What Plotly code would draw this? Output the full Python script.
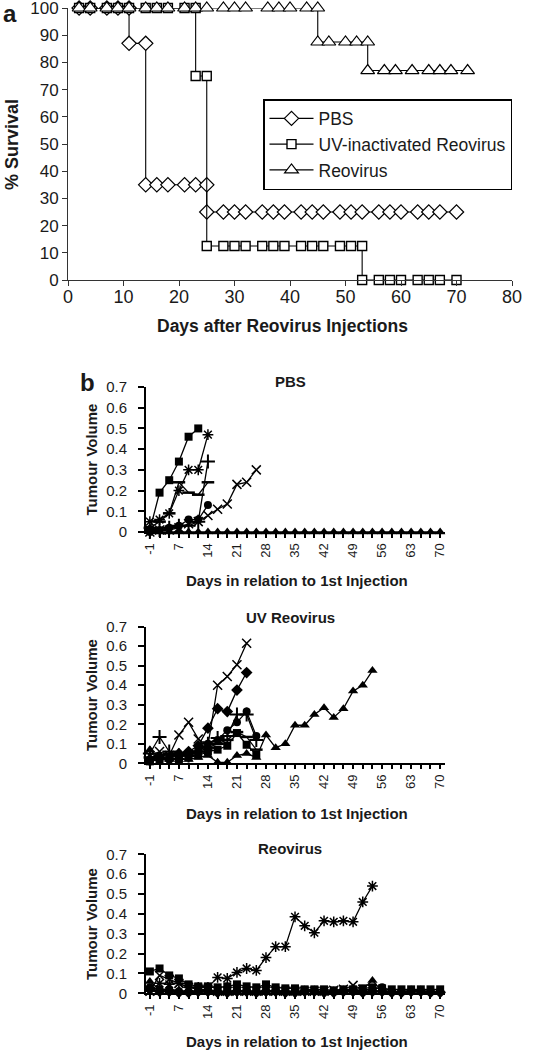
import plotly.graph_objects as go

W, H = 535, 1050

# ---------------- Panel a: survival ----------------
pbs_days = [2, 4, 7, 9, 11, 11, 14, 14, 16, 18, 21, 23, 25, 25, 28, 30, 32, 35, 37, 39,
            42, 44, 46, 49, 51, 53, 56, 58, 60, 63, 65, 67, 70]
pbs_surv = [100, 100, 100, 100, 100, 87, 87, 35, 35, 35, 35, 35, 35, 25, 25, 25, 25, 25, 25, 25,
            25, 25, 25, 25, 25, 25, 25, 25, 25, 25, 25, 25, 25]

uv_days = [2, 4, 7, 9, 11, 14, 16, 18, 21, 23, 23, 25, 25, 28, 30, 32, 35, 37, 39, 42,
           44, 46, 49, 51, 53, 53, 56, 58, 60, 63, 65, 67, 70]
uv_surv = [100, 100, 100, 100, 100, 100, 100, 100, 100, 100, 75, 75, 12.5, 12.5, 12.5, 12.5,
           12.5, 12.5, 12.5, 12.5, 12.5, 12.5, 12.5, 12.5, 12.5, 0, 0, 0, 0, 0, 0, 0, 0]

reo_days = [2, 4, 7, 9, 11, 14, 16, 18, 21, 23, 25, 28, 30, 32, 36, 38, 40, 43, 45,
            45, 47, 50, 52, 54, 54, 57, 59, 62, 65, 67, 69, 72]
reo_surv = [100, 100, 100, 100, 100, 100, 100, 100, 100, 100, 100, 100, 100, 100, 100, 100,
            100, 100, 100, 87.5, 87.5, 87.5, 87.5, 87.5, 77, 77, 77, 77, 77, 77, 77, 77]

# ---------------- Panel b: tumour volume ----------------
b_days = [-1, 2, 4, 7, 9, 11, 14, 16, 18, 21, 23, 25, 28, 30, 32, 35, 37, 39, 42, 44, 46,
          49, 51, 53, 56, 58, 60, 63, 65, 67, 70]
b_labels = ["-1", "7", "14", "21", "28", "35", "42", "49", "56", "63", "70"]

pbs_sq = [0.01, 0.19, 0.25, 0.34, 0.46, 0.50]
pbs_ast = [0.05, 0.06, 0.09, 0.20, 0.30, 0.30, 0.47]
pbs_plus = [0.00, 0.01, 0.02, 0.03, 0.03, 0.05, 0.34]
pbs_dash = [0.02, 0.05, 0.09, 0.24, 0.19, 0.18, 0.24]
pbs_circ = [0.00, 0.01, 0.02, 0.03, 0.06, 0.06, 0.13]
pbs_x = [0.00, 0.01, 0.01, 0.02, 0.04, 0.05, 0.08, 0.11, 0.135, 0.23, 0.24, 0.30]
pbs_tri = [0.02, 0.0, 0.0, 0.0, 0.0, 0.0, 0.0, 0.0, 0.0, 0.0, 0.0, 0.0, 0.0, 0.0, 0.0, 0.0,
           0.0, 0.0, 0.0, 0.0, 0.0, 0.0, 0.0, 0.0, 0.0, 0.0, 0.0, 0.0, 0.0, 0.0, 0.0]

uv_x = [0.04, 0.06, 0.04, 0.145, 0.21, 0.125, 0.09, 0.40, 0.445, 0.505, 0.615]
uv_dia = [0.02, 0.03, 0.02, 0.05, 0.06, 0.09, 0.18, 0.28, 0.265, 0.375, 0.465]
uv_circ = [0.01, 0.02, 0.02, 0.03, 0.05, 0.07, 0.10, 0.12, 0.17, 0.21, 0.265, 0.14]
uv_plus = [0.05, 0.135, 0.06, 0.04, 0.04, 0.06, 0.10, 0.13, 0.14, 0.25, 0.25, 0.12]
uv_sq = [0.01, 0.02, 0.03, 0.02, 0.03, 0.04, 0.06, 0.07, 0.09, 0.155, 0.095, 0.045]
uv_dash = [0.03, 0.04, 0.05, 0.04, 0.05, 0.06, 0.08, 0.10, 0.12, 0.16, 0.135, 0.07]
uv_tri = [0.07, 0.03, 0.02, 0.02, 0.02, 0.03, 0.04, 0.005, 0.005, 0.04, 0.05, 0.03, 0.145,
          0.08, 0.10, 0.195, 0.195, 0.25, 0.285, 0.235, 0.28, 0.37, 0.40, 0.475]

reo_ast = [0.01, 0.05, 0.045, 0.05, 0.03, 0.03, 0.03, 0.08, 0.075, 0.105, 0.125, 0.115, 0.18,
           0.235, 0.235, 0.385, 0.34, 0.305, 0.365, 0.36, 0.365, 0.36, 0.46, 0.54]
reo_sq = [0.11, 0.125, 0.09, 0.075, 0.045, 0.035, 0.035, 0.03, 0.035, 0.045, 0.035, 0.03,
          0.045, 0.03, 0.025, 0.025, 0.02, 0.02, 0.02, 0.015, 0.02, 0.02, 0.025, 0.03, 0.025,
          0.02, 0.02, 0.02, 0.02, 0.02, 0.02]
reo_tri = [0.06, 0.02, 0.02, 0.015, 0.01, 0.01, 0.01, 0.01, 0.01, 0.01, 0.01, 0.01, 0.01,
           0.01, 0.01, 0.01, 0.01, 0.01, 0.01, 0.01, 0.01, 0.01, 0.02, 0.065, 0.01, 0.01,
           0.01, 0.01, 0.01, 0.01, 0.01]
reo_dia = [0.02, 0.01, 0.01, 0.005, 0.005, 0.01, 0.01, 0.005, 0.005, 0.01, 0.01, 0.005,
           0.01, 0.01, 0.005, 0.005, 0.01, 0.01, 0.005, 0.005, 0.01, 0.01, 0.005, 0.01,
           0.01, 0.005, 0.005, 0.01, 0.01, 0.005, 0.005]
reo_circ = [0.03, 0.02, 0.02, 0.01, 0.01, 0.01, 0.015, 0.01, 0.01, 0.015, 0.01, 0.01, 0.01,
            0.015, 0.01, 0.01, 0.01, 0.01, 0.01, 0.01, 0.015, 0.01, 0.015, 0.02, 0.03,
            0.01, 0.01, 0.01, 0.01, 0.01, 0.01]
reo_x = [0.01, 0.09, 0.07, 0.05, 0.03, 0.02, 0.02, 0.01, 0.01, 0.01, 0.01, 0.01, 0.01, 0.01,
         0.01, 0.01, 0.01, 0.01, 0.01, 0.015, 0.02, 0.04, 0.02, 0.02]

FONT = "Liberation Sans, Arial, Helvetica, sans-serif"
TXT = "#1a1a1a"


def px_x(p):
    return p / W


def px_y(p):
    return 1 - p / H


fig = go.Figure()

# ---- panel a traces ----
fig.add_trace(go.Scatter(x=pbs_days, y=pbs_surv, name="PBS", mode="lines+markers",
                         line=dict(color="black", width=1.1), cliponaxis=False,
                         marker=dict(symbol="diamond", size=11, color="white",
                                     line=dict(color="black", width=1.2)),
                         xaxis="x", yaxis="y"))
fig.add_trace(go.Scatter(x=uv_days, y=uv_surv, name="UV-inactivated Reovirus",
                         mode="lines+markers", line=dict(color="black", width=1.1),
                         cliponaxis=False,
                         marker=dict(symbol="square", size=9, color="white",
                                     line=dict(color="black", width=1.4)),
                         xaxis="x", yaxis="y"))
fig.add_trace(go.Scatter(x=reo_days, y=reo_surv, name="Reovirus", mode="lines+markers",
                         line=dict(color="black", width=1.1), cliponaxis=False,
                         marker=dict(symbol="triangle-up", size=12, color="white",
                                     line=dict(color="black", width=1.2)),
                         xaxis="x", yaxis="y"))

# ---- panel b traces ----
SYM = {
    "sq": dict(symbol="square", size=8, color="black"),
    "dia": dict(symbol="diamond", size=9, color="black"),
    "tri": dict(symbol="triangle-up", size=9, color="black"),
    "circ": dict(symbol="circle", size=8, color="black"),
    "x": dict(symbol="x-thin-open", size=9, color="black", line=dict(width=1.5, color="black")),
    "ast": dict(symbol="asterisk-open", size=9, color="black", line=dict(width=1.5, color="black")),
    "plus": dict(symbol="cross-thin-open", size=10, color="black", line=dict(width=2, color="black")),
    "dash": dict(symbol="line-ew-open", size=9, color="black", line=dict(width=2.5, color="black")),
}

groups = [
    ("2", [("tri", pbs_tri), ("circ", pbs_circ), ("plus", pbs_plus), ("dash", pbs_dash),
           ("x", pbs_x), ("ast", pbs_ast), ("sq", pbs_sq)]),
    ("3", [("dash", uv_dash), ("sq", uv_sq), ("plus", uv_plus), ("circ", uv_circ),
           ("dia", uv_dia), ("x", uv_x), ("tri", uv_tri)]),
    ("4", [("dia", reo_dia), ("circ", reo_circ), ("x", reo_x), ("tri", reo_tri),
           ("sq", reo_sq), ("ast", reo_ast)]),
]
cat_labels = [str(d) for d in b_days]
for ax, series in groups:
    for key, vals in series:
        fig.add_trace(go.Scatter(x=cat_labels[:len(vals)], y=vals, mode="lines+markers",
                                 line=dict(color="black", width=1.3), marker=SYM[key],
                                 showlegend=False, xaxis="x" + ax, yaxis="y" + ax,
                                 cliponaxis=False, hoverinfo="skip"))

# ---- layout ----
layout = dict(
    width=W, height=H, margin=dict(l=0, r=0, t=0, b=0, autoexpand=False),
    paper_bgcolor="white", plot_bgcolor="white",
    font=dict(family=FONT, color=TXT),
    xaxis=dict(domain=[px_x(68), px_x(512)], range=[0, 80], tickvals=list(range(0, 81, 10)),
               showline=True, linecolor="#333", linewidth=1, ticks="outside", ticklen=5,
               tickcolor="#333", showgrid=False, zeroline=False, tickfont=dict(size=18),
               ticklabelstandoff=-5,
               anchor="y", fixedrange=True, automargin=False, ticklabeloverflow="allow"),
    yaxis=dict(domain=[px_y(280), px_y(8)], range=[0, 100], tickvals=list(range(0, 101, 10)),
               showline=True, linecolor="#333", linewidth=1, ticks="outside", ticklen=5,
               tickcolor="#333", showgrid=False, zeroline=False, tickfont=dict(size=17),
               anchor="x", fixedrange=True, automargin=False, ticklabeloverflow="allow"),
    legend=dict(x=px_x(263), y=px_y(99), xanchor="left", yanchor="top",
                bordercolor="black", borderwidth=1.5, bgcolor="white",
                font=dict(size=17.5, family=FONT, color=TXT), itemwidth=44,
                entrywidth=235, entrywidthmode="pixels", tracegroupgap=0),
)

b_geom = {"2": (387, 532), "3": (626.7, 763.3), "4": (854.3, 993.3)}
tickvals_b = cat_labels
ticktext_b = [d if d in b_labels else "" for d in cat_labels]
for ax, (top, bot) in b_geom.items():
    layout["xaxis" + ax] = dict(domain=[px_x(146), px_x(445)], type="category",
                                categoryorder="array", categoryarray=cat_labels,
                                range=[-0.4, 30.5], tickmode="array", tickvals=tickvals_b,
                                ticktext=ticktext_b, tickangle=-90, showline=True,
                                linecolor="black", linewidth=2, ticks="outside", ticklen=4,
                                tickwidth=1.5, tickcolor="black", showgrid=False,
                                zeroline=False, tickfont=dict(size=13), anchor="y" + ax,
                                fixedrange=True, automargin=False)
    layout["yaxis" + ax] = dict(domain=[px_y(bot), px_y(top)], range=[0, 0.7],
                                tickvals=[0, 0.1, 0.2, 0.3, 0.4, 0.5, 0.6, 0.7],
                                ticktext=["0", "0.1", "0.2", "0.3", "0.4", "0.5", "0.6", "0.7"],
                                showline=True, linecolor="black", linewidth=2,
                                ticks="outside", ticklen=6, tickwidth=1.5, tickcolor="black",
                                ticklabelstandoff=8,
                                showgrid=False, zeroline=False, tickfont=dict(size=15),
                                anchor="x" + ax, fixedrange=True, automargin=False)

fig.update_layout(**layout)


def ann(text, x, y, size, bold=True, angle=0, xanchor="center"):
    fig.add_annotation(text=("<b>%s</b>" % text) if bold else text, x=px_x(x), y=px_y(y),
                       xref="paper", yref="paper", showarrow=False, textangle=angle,
                       xanchor=xanchor, yanchor="middle",
                       font=dict(size=size, family=FONT, color=TXT))


ann("a", 1, 14, 24, xanchor="left")
ann("% Survival", 12, 145, 18, angle=-90)
ann("Days after Reovirus Injections", 282, 326, 17.5)
ann("b", 78, 382, 24, xanchor="left")

titles = [("PBS", 381, 580.7, 459.5), ("UV Reovirus", 617, 813, 695),
          ("Reovirus", 848, 1041, 924)]
for t, ty, xty, ymid in titles:
    ann(t, 290, ty, 15)
    ann("Days in relation to 1st Injection", 297, xty, 15)
    ann("Tumour Volume", 91, ymid, 15, angle=-90)

fig.write_html("out.html", config={"displayModeBar": False},
               post_script="document.body.style.margin='0';document.body.style.padding='0';")
